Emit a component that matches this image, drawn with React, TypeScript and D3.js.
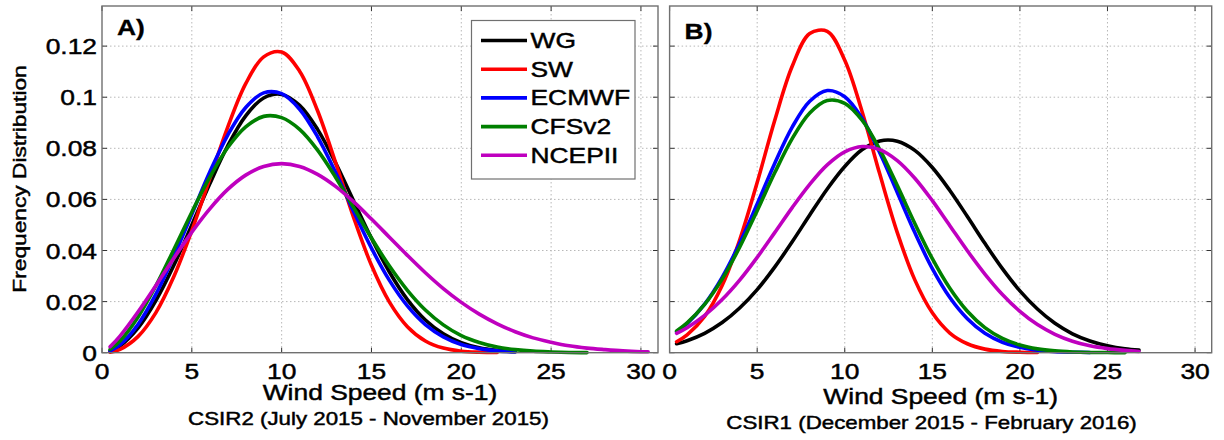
import React from 'react';
import * as d3 from 'd3';

// ---------- data ----------
const SERIES = ['WG', 'SW', 'ECMWF', 'CFSv2', 'NCEPII'];
const COLORS = ['#000000', '#ff0000', '#0000ff', '#008000', '#bf00bf'];

const X_TICKS = [0, 5, 10, 15, 20, 25, 30];
const Y_TICKS = [0, 0.02, 0.04, 0.06, 0.08, 0.1, 0.12];
const Y_TICK_LABELS = ['0', '0.02', '0.04', '0.06', '0.08', '0.1', '0.12'];

// Panel A (CSIR2) wind speed grid
const AX = [0.45, 1, 2, 3, 4, 5, 6, 7, 8, 9, 10, 11, 12, 13, 14, 15, 16, 17, 18, 19, 20, 21, 22, 23, 24, 25, 26, 27, 28, 29, 30, 30.4];
const A_WG = [0.0006, 0.0026, 0.0096, 0.0204, 0.0342, 0.05, 0.0661, 0.081, 0.0927, 0.0997, 0.1011, 0.0968, 0.0874, 0.0743, 0.0595, 0.0448, 0.0316, 0.0208, 0.0128, 0.0074, 0.0039, 0.0019, 0.0009, 0.0004];
const A_SW = [0.0002, 0.0013, 0.0063, 0.0157, 0.0298, 0.0478, 0.0681, 0.0883, 0.1053, 0.1158, 0.1177, 0.1102, 0.0947, 0.0745, 0.0531, 0.0342, 0.0198, 0.0102, 0.0046, 0.0018, 0.0006, 0.0002, 0.0001];
const A_ECMWF = [0.0007, 0.0031, 0.011, 0.0229, 0.0377, 0.0542, 0.0707, 0.0852, 0.096, 0.1017, 0.1014, 0.0953, 0.0845, 0.0706, 0.0554, 0.0409, 0.0283, 0.0183, 0.011, 0.0062, 0.0032, 0.0016, 0.0007, 0.0003];
const A_CFSV2 = [0.0013, 0.0046, 0.0139, 0.0262, 0.0404, 0.055, 0.0687, 0.0803, 0.0884, 0.0925, 0.092, 0.0874, 0.0793, 0.0687, 0.0569, 0.0449, 0.0339, 0.0244, 0.0167, 0.0109, 0.0067, 0.004, 0.0022, 0.0012, 0.0006, 0.0003, 0.0001, 0.00004];
const A_NCEPII = [0.0023, 0.0065, 0.0159, 0.0263, 0.037, 0.0472, 0.0563, 0.0639, 0.0695, 0.0729, 0.074, 0.0729, 0.0698, 0.0651, 0.0591, 0.0523, 0.0452, 0.0381, 0.0313, 0.0251, 0.0197, 0.0151, 0.0113, 0.0082, 0.0058, 0.0041, 0.0027, 0.0018, 0.0012, 0.0007, 0.0004, 0.00035];

// Panel B (CSIR1) wind speed grid
const BX = [0.4, 1, 2, 3, 4, 5, 6, 7, 8, 9, 10, 11, 12, 13, 14, 15, 16, 17, 18, 19, 20, 21, 22, 23, 24, 25, 26, 26.8];
const B_WG = [0.0035, 0.0047, 0.0076, 0.0118, 0.0175, 0.0247, 0.0335, 0.0434, 0.0539, 0.0641, 0.0729, 0.0795, 0.0829, 0.0828, 0.0792, 0.0725, 0.0635, 0.0533, 0.0428, 0.0329, 0.0242, 0.0171, 0.0115, 0.0074, 0.0046, 0.0027, 0.0015, 0.001];
const B_SW = [0.0043, 0.007, 0.0142, 0.0263, 0.0441, 0.0666, 0.0909, 0.1121, 0.1249, 0.1258, 0.1145, 0.0941, 0.0699, 0.047, 0.0285, 0.0156, 0.0077, 0.0035, 0.0014, 0.0005, 0.0002, 0.0001];
const B_ECMWF = [0.0082, 0.0114, 0.019, 0.0295, 0.0428, 0.0582, 0.0741, 0.0883, 0.0984, 0.1026, 0.1002, 0.0916, 0.0783, 0.0627, 0.047, 0.0329, 0.0216, 0.0133, 0.0076, 0.0041, 0.0021, 0.001, 0.0004, 0.0002, 0.0001];
const B_CFSV2 = [0.0085, 0.0117, 0.0189, 0.0288, 0.0413, 0.0556, 0.0704, 0.0838, 0.0938, 0.0987, 0.0976, 0.0909, 0.0795, 0.0654, 0.0506, 0.0368, 0.0252, 0.0162, 0.0098, 0.0056, 0.003, 0.0015, 0.0007, 0.0003, 0.0001, 0.00005, 0.00002];
const B_NCEPII = [0.0076, 0.0098, 0.0146, 0.0208, 0.0284, 0.0373, 0.047, 0.0568, 0.0659, 0.0735, 0.0786, 0.0807, 0.0795, 0.0752, 0.0683, 0.0595, 0.0497, 0.0399, 0.0308, 0.0228, 0.0162, 0.011, 0.0072, 0.0045, 0.0027, 0.0016, 0.0009, 0.0005];

const A_VALUES = [A_WG, A_SW, A_ECMWF, A_CFSV2, A_NCEPII];
const B_VALUES = [B_WG, B_SW, B_ECMWF, B_CFSV2, B_NCEPII];

const FONT = "'Liberation Sans', Arial, Helvetica, sans-serif";

type TProps = {
  x: number; y: number; size: number; sx?: number; anchor?: string;
  weight?: string | number; rot?: number; children: React.ReactNode;
};
function T({ x, y, size, sx = 1.2, anchor = 'start', weight = 'normal', rot = 0, children }: TProps) {
  return (
    <text
      transform={`translate(${x},${y}) rotate(${rot}) scale(${sx},1)`}
      fontSize={size}
      fontFamily={FONT}
      fontWeight={weight as any}
      textAnchor={anchor as any}
      fill="#000"
      stroke="#000"
      strokeWidth={weight === 'bold' ? 0.3 : 0.45}
    >
      {children}
    </text>
  );
}

type PanelProps = {
  left: number; right: number; top: number; bottom: number;
  xs: number[]; values: number[][];
  yLabels: boolean; tag: string; tagY: number;
  xlabelY: number; subtitle: string; subtitleX: number; subtitleY: number;
  legend?: boolean;
};

function Panel(p: PanelProps) {
  const x = d3.scaleLinear().domain([0, 30.95]).range([p.left, p.right]);
  const y = d3.scaleLinear().domain([0, 0.1357]).range([p.bottom, p.top]);
  const line = d3.line<[number, number]>()
    .x((d) => x(d[0]))
    .y((d) => y(d[1]))
    .curve(d3.curveCatmullRom.alpha(0.5));
  const cx = (p.left + p.right) / 2;
  const tickLen = 5;
  return (
    <g>
      {/* grid */}
      {X_TICKS.filter((t) => t > 0).map((t) => (
        <line key={'gx' + t} x1={x(t)} x2={x(t)} y1={p.top} y2={p.bottom}
          stroke="#b8b8b8" strokeWidth={1} strokeDasharray="1.5,2.5" />
      ))}
      {Y_TICKS.filter((t) => t > 0).map((t) => (
        <line key={'gy' + t} x1={p.left} x2={p.right} y1={y(t)} y2={y(t)}
          stroke="#b8b8b8" strokeWidth={1} strokeDasharray="1.5,2.5" />
      ))}
      {/* ticks */}
      {X_TICKS.map((t) => (
        <g key={'tx' + t}>
          <line x1={x(t)} x2={x(t)} y1={p.bottom} y2={p.bottom - tickLen} stroke="#333" strokeWidth={1} />
          <line x1={x(t)} x2={x(t)} y1={p.top} y2={p.top + tickLen} stroke="#333" strokeWidth={1} />
        </g>
      ))}
      {Y_TICKS.map((t) => (
        <g key={'ty' + t}>
          <line x1={p.left} x2={p.left + tickLen} y1={y(t)} y2={y(t)} stroke="#333" strokeWidth={1} />
          <line x1={p.right} x2={p.right - tickLen} y1={y(t)} y2={y(t)} stroke="#333" strokeWidth={1} />
        </g>
      ))}
      {/* curves */}
      {p.values.map((vals, i) => (
        <path key={SERIES[i]}
          d={line(vals.map((v, j) => [p.xs[j], v] as [number, number])) || ''}
          fill="none" stroke={COLORS[i]} strokeWidth={3.6}
          strokeLinejoin="round" strokeLinecap="round" />
      ))}
      {/* frame */}
      <rect x={p.left} y={p.top} width={p.right - p.left} height={p.bottom - p.top}
        fill="none" stroke="#707070" strokeWidth={1.4} />
      {/* tick labels */}
      {X_TICKS.map((t) => (
        <T key={'lx' + t} x={x(t)} y={379} size={22} anchor="middle">{String(t)}</T>
      ))}
      {p.yLabels && Y_TICKS.map((t, i) => (
        <T key={'ly' + t} x={p.left - 5} y={y(t) + 8} size={22} anchor="end">{Y_TICK_LABELS[i]}</T>
      ))}
      <T x={p.left + 15} y={p.tagY} size={22} weight="bold">{p.tag}</T>
      <T x={cx} y={p.xlabelY} size={22} anchor="middle">Wind Speed (m s-1)</T>
      <T x={p.subtitleX} y={p.subtitleY} size={18} sx={1.24} anchor="middle">{p.subtitle}</T>
      {p.legend && (
        <g>
          <rect x={471.5} y={20.5} width={163.5} height={158.5} fill="#fff" stroke="#707070" strokeWidth={1.2} />
          {SERIES.map((s, i) => {
            const by = 48 + i * 28.7;
            return (
              <g key={'lg' + s}>
                <line x1={481} x2={527} y1={by - 7.5} y2={by - 7.5} stroke={COLORS[i]} strokeWidth={3.6} />
                <T x={530.5} y={by} size={22}>{s}</T>
              </g>
            );
          })}
        </g>
      )}
    </g>
  );
}

export default function App() {
  return (
    <svg width={1224} height={440} style={{ position: 'absolute', left: 0, top: 0, background: '#fff' }}>
      <rect x={0} y={0} width={1224} height={440} fill="#fff" />
      <T x={25.5} y={179} size={18.5} sx={1.23} rot={-90} anchor="middle">Frequency Distribution</T>
      <Panel left={102} right={658} top={6} bottom={352.7} xs={AX} values={A_VALUES}
        yLabels={true} tag="A)" tagY={35} xlabelY={400}
        subtitle="CSIR2 (July 2015 - November 2015)" subtitleX={368.5} subtitleY={425}
        legend={true} />
      <Panel left={669.6} right={1211.7} top={6} bottom={352.7} xs={BX} values={B_VALUES}
        yLabels={false} tag="B)" tagY={39} xlabelY={404}
        subtitle="CSIR1 (December 2015 - February 2016)" subtitleX={931.5} subtitleY={429} />
    </svg>
  );
}
